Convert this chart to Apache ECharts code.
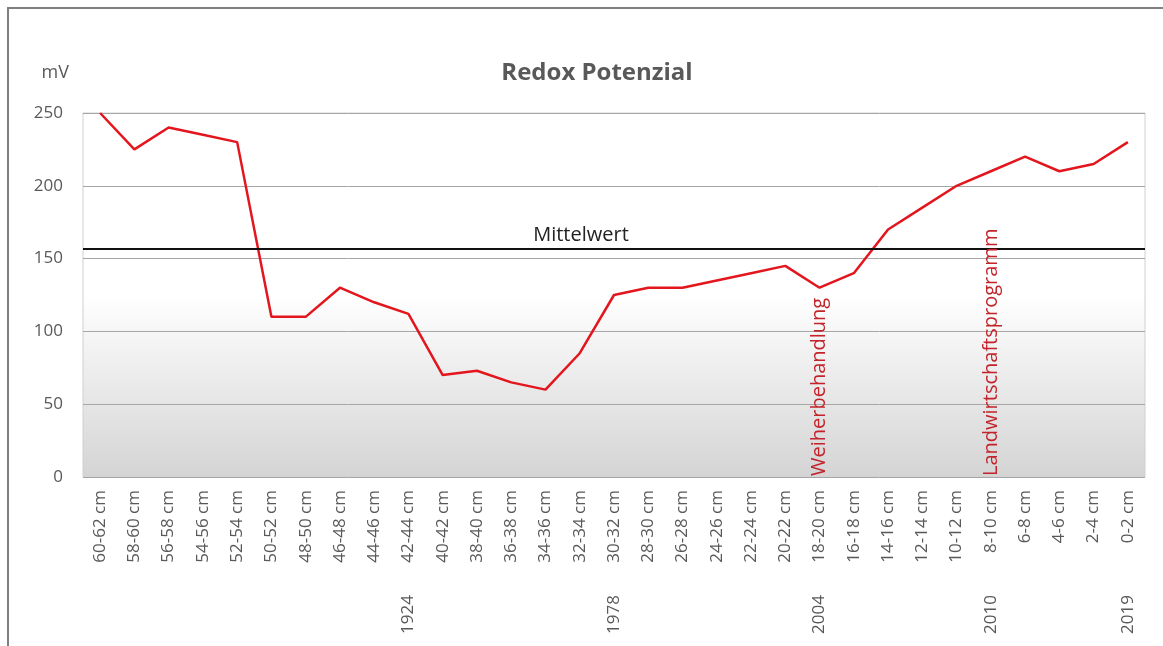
<!DOCTYPE html>
<html>
<head>
<meta charset="utf-8">
<script src="https://cdn.jsdelivr.net/npm/echarts@6/dist/echarts.min.js"></script>
<style>
  html, body { margin: 0; padding: 0; background: #fff; }
  #chart { width: 1163px; height: 646px; }
</style>
</head>
<body>
<div id="chart"></div>
<script>
// Tiefenstufen (von unten nach oben im Sediment)
var depths = [
  '60-62 cm', '58-60 cm', '56-58 cm', '54-56 cm', '52-54 cm', '50-52 cm',
  '48-50 cm', '46-48 cm', '44-46 cm', '42-44 cm', '40-42 cm', '38-40 cm',
  '36-38 cm', '34-36 cm', '32-34 cm', '30-32 cm', '28-30 cm', '26-28 cm',
  '24-26 cm', '22-24 cm', '20-22 cm', '18-20 cm', '16-18 cm', '14-16 cm',
  '12-14 cm', '10-12 cm', '8-10 cm', '6-8 cm', '4-6 cm', '2-4 cm', '0-2 cm'
];
var years = [
  '', '', '', '', '', '', '', '', '', '1924', '', '',
  '', '', '', '1978', '', '', '', '', '', '2004', '',
  '', '', '', '2010', '', '', '', '2019'
];
var redox = [
  250, 225, 240, 235, 230, 110, 110, 130, 120, 112, 70, 73,
  65, 60, 85, 125, 130, 130, 135, 140, 145, 130, 140, 170,
  185, 200, 210, 220, 210, 215, 230
];
var yTicks = [0, 50, 100, 150, 200, 250];
var mittelwert = 157;
var events = [
  { depth: '18-20 cm', text: 'Weiherbehandlung' },
  { depth: '8-10 cm', text: 'Landwirtschaftsprogramm' }
];

var grey = '#595959';
var font = '"Open Sans", "Noto Sans", sans-serif';

var markData = [{
  yAxis: mittelwert,
  lineStyle: { color: '#111', width: 2, type: 'solid' },
  label: {
    show: true, position: 'middle', formatter: 'Mittelwert',
    color: '#222', fontSize: 20, fontFamily: font, distance: 3, offset: [-33, 0]
  }
}];
events.forEach(function (e) {
  markData.push({
    xAxis: e.depth,
    lineStyle: { color: 'rgba(0,0,0,0)', width: 0 },
    label: {
      show: true, position: 'insideStart', formatter: e.text,
      color: '#c3242b', fontSize: 20, fontFamily: font, distance: 1
    }
  });
});

var myChart = echarts.init(document.getElementById('chart'));
myChart.setOption({
  animation: false,
  title: {
    text: 'Redox Potenzial',
    left: 592, top: 56, textAlign: 'center',
    textStyle: { color: grey, fontSize: 24, fontWeight: 'bold', fontFamily: font }
  },
  graphic: [{
    type: 'rect',
    shape: { x: 8, y: 8, width: 3000, height: 3000 },
    style: { fill: 'none', stroke: '#7f7f7f', lineWidth: 2 },
    silent: true
  }],
  grid: {
    left: 83, right: 18, top: 113, bottom: 169,
    show: true,
    borderColor: '#d0d0d0', borderWidth: 1,
    backgroundColor: new echarts.graphic.LinearGradient(0, 0, 0, 1, [
      { offset: 0, color: '#ffffff' },
      { offset: 0.5, color: '#ffffff' },
      { offset: 1, color: '#d4d4d4' }
    ])
  },
  xAxis: [{
    type: 'category',
    data: depths,
    boundaryGap: true,
    axisLine: { show: false },
    axisTick: { show: false },
    axisLabel: {
      interval: 0, rotate: 90, margin: 13,
      color: grey, fontSize: 17, fontFamily: font
    }
  }, {
    type: 'category',
    data: years,
    position: 'bottom',
    boundaryGap: true,
    axisLine: { show: false },
    axisTick: { show: false },
    axisLabel: {
      interval: 0, rotate: 90, margin: 118,
      color: grey, fontSize: 17, fontFamily: font
    }
  }],
  yAxis: {
    type: 'value',
    min: yTicks[0], max: yTicks[yTicks.length - 1], interval: 50,
    name: 'mV',
    nameLocation: 'end',
    nameGap: 31,
    nameTextStyle: { color: grey, fontSize: 18, fontFamily: font, align: 'right', padding: [0, 14, 0, 0] },
    axisLine: { show: false },
    axisTick: { show: false },
    splitLine: { lineStyle: { color: '#a6a6a6', width: 1 } },
    axisLabel: { color: grey, fontSize: 17, fontFamily: font, margin: 20 }
  },
  series: [{
    type: 'line',
    data: redox,
    xAxisIndex: 0,
    symbol: 'none',
    lineStyle: { color: '#e3161e', width: 2.5 },
    markLine: {
      silent: true,
      symbol: 'none',
      emphasis: { disabled: true },
      data: markData
    }
  }]
});
</script>
</body>
</html>
